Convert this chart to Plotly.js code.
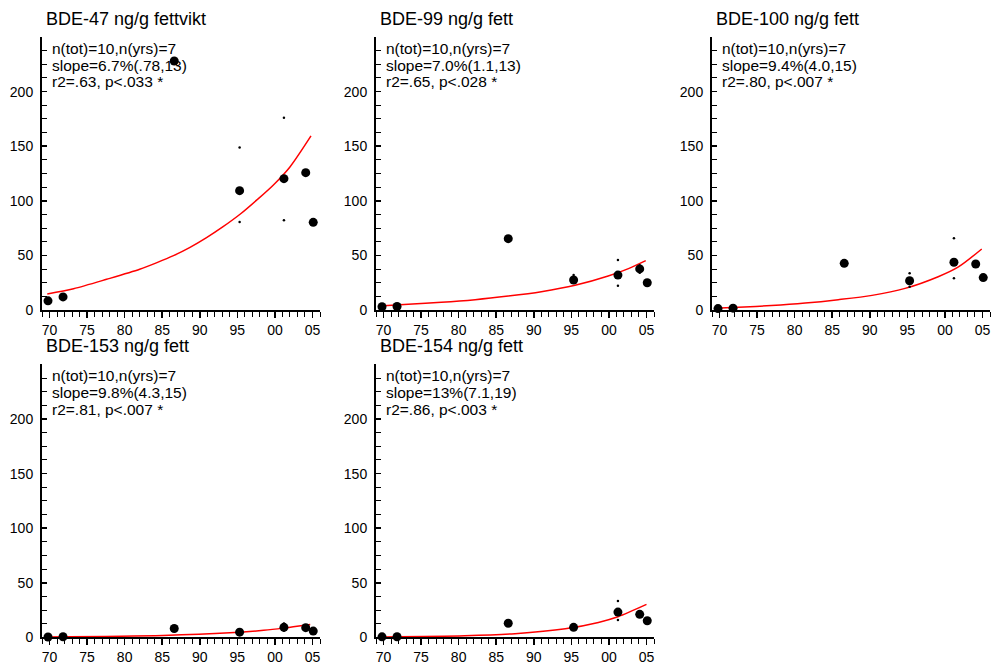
<!DOCTYPE html>
<html>
<head>
<meta charset="utf-8">
<script src="https://cdn.plot.ly/plotly-3.0.1.min.js"></script>
<style>html,body{margin:0;padding:0;background:#fff;}#chart{width:991px;height:664px;}</style>
</head>
<body>
<div id="chart"></div>
<script>
// ---- data ----
const titles = ["BDE-47 ng/g fettvikt", "BDE-99 ng/g fett", "BDE-100 ng/g fett", "BDE-153 ng/g fett", "BDE-154 ng/g fett"];
const statLines = [
  ["n(tot)=10,n(yrs)=7", "slope=6.7%(.78,13)", "r2=.63, p<.033 *"],
  ["n(tot)=10,n(yrs)=7", "slope=7.0%(1.1,13)", "r2=.65, p<.028 *"],
  ["n(tot)=10,n(yrs)=7", "slope=9.4%(4.0,15)", "r2=.80, p<.007 *"],
  ["n(tot)=10,n(yrs)=7", "slope=9.8%(4.3,15)", "r2=.81, p<.007 *"],
  ["n(tot)=10,n(yrs)=7", "slope=13%(7.1,19)", "r2=.86, p<.003 *"]
];
const years = [1969.8, 1971.8, 1986.6, 1995.3, 2001.2, 2004.1, 2005.1];
const bde47  = [8.4, 12.0, 228, 109.3, 120.3, 125.8, 80.3];
const bde99  = [3.0, 3.2, 65.3, 27.5, 32.0, 37.6, 25.0];
const bde100 = [1.3, 1.7, 42.7, 26.8, 43.7, 42.1, 29.7];
const bde153 = [0.4, 0.6, 8.2, 4.8, 9.2, 8.9, 5.8];
const bde154 = [0.5, 0.6, 13.0, 9.2, 23.2, 21.1, 15.2];

// individual (small) values
const ind47x  = [1995.3, 1995.3, 2001.2, 2001.2];
const ind47y  = [148.7, 80.5, 176, 82.1];
const ind99x  = [1995.3, 2001.2, 2001.2, 2004.1, 2004.1];
const ind99y  = [32, 45.8, 22.3, 41, 34];
const ind100x = [1995.3, 1995.3, 2001.2, 2001.2];
const ind100y = [33.6, 21.4, 65.6, 29];
const ind153x = [2001.2, 2001.2];
const ind153y = [12.8, 6.0];
const ind154x = [2001.2, 2001.2];
const ind154y = [33.3, 15.9];

// fitted trend curves
const fit47x  = [1969.7, 1973.2, 1977.6, 1982.0, 1984.3, 1986.5, 1988.7, 1990.9, 1993.1, 1995.4, 1997.6, 1999.8, 2002.0, 2004.8];
const fit47y  = [14.7, 19.5, 28.1, 37.3, 43.4, 49.8, 57.4, 66.3, 76.3, 87.9, 100.8, 114.5, 131.0, 159.4];
const fit99x  = [1970.0, 1973.3, 1977.7, 1982.2, 1986.6, 1991.0, 1995.5, 1999.9, 2002.6, 2004.9];
const fit99y  = [4.0, 5.2, 7.0, 9.5, 12.8, 16.8, 22.6, 31.1, 37.9, 45.2];
const fit100x = [1970.1, 1972.5, 1976.9, 1981.4, 1985.8, 1990.3, 1994.7, 1999.1, 2001.8, 2004.9];
const fit100y = [1.8, 2.5, 4.1, 6.4, 9.5, 13.4, 19.8, 30.5, 39.5, 55.9];
const fit153x = [1969.8, 1985.1, 1994.0, 1998.5, 2001.1, 2004.7];
const fit153y = [0.45, 1.8, 4.2, 6.5, 8.5, 11.9];
const fit154x = [1970.0, 1980.8, 1987.5, 1994.2, 1998.6, 2001.2, 2005.0];
const fit154y = [0.4, 1.5, 3.4, 7.9, 13.7, 18.9, 30.2];

const xTickVals = [1970, 1975, 1980, 1985, 1990, 1995, 2000, 2005];
const xTickText = ["70", "75", "80", "85", "90", "95", "00", "05"];
const yTickVals = [0, 50, 100, 150, 200];
const yTickText = ["0", "50", "100", "150", "200"];

// ---- layout geometry (pixels) ----
const W = 991, H = 664;
const panels = [
  {means: bde47,  ix: ind47x,  iy: ind47y,  fx: fit47x,  fy: fit47y,  left: 42,  top: 37},
  {means: bde99,  ix: ind99x,  iy: ind99y,  fx: fit99x,  fy: fit99y,  left: 376, top: 37},
  {means: bde100, ix: ind100x, iy: ind100y, fx: fit100x, fy: fit100y, left: 712, top: 37},
  {means: bde153, ix: ind153x, iy: ind153y, fx: fit153x, fy: fit153y, left: 42,  top: 364.4},
  {means: bde154, ix: ind154x, iy: ind154y, fx: fit154x, fy: fit154y, left: 376, top: 364.4}
];
const PW = 278, PH = 273;

const FONT = "Liberation Sans, Arial, Helvetica, sans-serif";
const traces = [];
const layout = {
  width: W, height: H,
  margin: {l: 0, r: 0, t: 0, b: 0},
  paper_bgcolor: "#ffffff", plot_bgcolor: "#ffffff",
  showlegend: false,
  font: {family: FONT, color: "#000", size: 14},
  annotations: []
};

panels.forEach((p, i) => {
  const n = i + 1;
  const xa = "x" + (n === 1 ? "" : n), ya = "y" + (n === 1 ? "" : n);
  const xk = "xaxis" + (n === 1 ? "" : n), yk = "yaxis" + (n === 1 ? "" : n);
  traces.push({x: p.fx, y: p.fy, xaxis: xa, yaxis: ya, mode: "lines", type: "scatter",
    line: {color: "#ff0000", width: 1.5, shape: "spline", smoothing: 0.8}, hoverinfo: "skip", cliponaxis: false});
  traces.push({x: p.ix, y: p.iy, xaxis: xa, yaxis: ya, mode: "markers", type: "scatter",
    marker: {color: "#000", size: 2.5}, hoverinfo: "skip", cliponaxis: false});
  traces.push({x: years, y: p.means, xaxis: xa, yaxis: ya, mode: "markers", type: "scatter",
    marker: {color: "#000", size: 9}, hoverinfo: "skip", cliponaxis: false});

  layout[xk] = {
    domain: [p.left / W, (p.left + PW) / W],
    anchor: ya, range: [1969, 2006],
    showgrid: false, zeroline: false, showline: true, linecolor: "#000", linewidth: 2,
    tickmode: "array", tickvals: xTickVals, ticktext: xTickText,
    ticks: "outside", ticklen: 6, tickwidth: 1.5, tickcolor: "#000",
    minor: {tickmode: "linear", tick0: 1969, dtick: 1, ticks: "outside", ticklen: 5, tickwidth: 1, tickcolor: "#000", showgrid: false},
    tickfont: {family: FONT, size: 14, color: "#000"}, fixedrange: true
  };
  layout[yk] = {
    domain: [1 - (p.top + PH) / H, 1 - p.top / H],
    anchor: xa, range: [0, 250],
    showgrid: false, zeroline: false, showline: true, linecolor: "#000", linewidth: 2,
    tickmode: "array", tickvals: yTickVals, ticktext: yTickText,
    ticks: "inside", ticklen: 5, tickwidth: 1.5, tickcolor: "#000",
    minor: {tickmode: "linear", tick0: 0, dtick: 12.5, ticks: "inside", ticklen: 5, tickwidth: 1, tickcolor: "#000", showgrid: false},
    tickfont: {family: FONT, size: 14, color: "#000"}, ticklabelstandoff: 4, fixedrange: true
  };

  layout.annotations.push({
    xref: "paper", yref: "paper", x: (p.left + 2) / W, y: 1 - (p.top - 18) / H,
    xanchor: "left", yanchor: "middle", showarrow: false,
    text: titles[i], font: {family: FONT, size: 18, color: "#000"}
  });
  statLines[i].forEach((t, j) => {
    const dy = [11, 28, 45][j];
    layout.annotations.push({
      xref: "paper", yref: "paper", x: (p.left + 8) / W, y: 1 - (p.top + dy) / H,
      xanchor: "left", yanchor: "middle", showarrow: false,
      text: t, font: {family: FONT, size: 15.5, color: "#000"}
    });
  });
});

Plotly.newPlot("chart", traces, layout, {staticPlot: true, displayModeBar: false});
</script>
</body>
</html>
